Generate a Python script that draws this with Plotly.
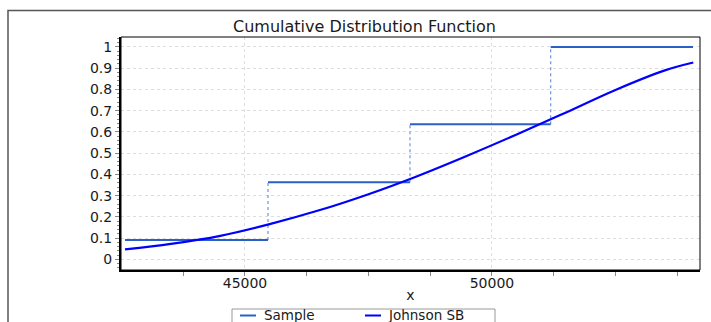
import plotly.graph_objects as go

# Sample empirical CDF steps
step_x = [42571, 45466, 48340, 51188, 54069]
step_y = [0.0909, 0.3636, 0.6364, 1.0]

# Johnson SB fitted CDF
jsb_x = [42571, 43500, 44500, 45500, 46500, 47500, 48500, 49500, 50500, 51500, 52500, 53500, 54075]
jsb_y = [0.047, 0.073, 0.111, 0.166, 0.231, 0.307, 0.393, 0.488, 0.588, 0.692, 0.798, 0.890, 0.927]

y_ticks = [0, 0.1, 0.2, 0.3, 0.4, 0.5, 0.6, 0.7, 0.8, 0.9, 1]
y_labels = ["0", "0.1", "0.2", "0.3", "0.4", "0.5", "0.6", "0.7", "0.8", "0.9", "1"]
x_ticks = [45000, 50000]
x_labels = ["45000", "50000"]
legend_names = ["Sample", "Johnson SB"]

FONT = "DejaVu Sans, Arial, sans-serif"
SAMPLE_C = "#2a5fc8"
JSB_C = "#0000ff"
TXT = "#1a1a1a"

# plot-area pixel geometry helpers (paper coords)
L, T, W, H = 121, 37, 579, 233
def px(xp):
    return (xp - L) / W
def py(yp):
    return (T + H - yp) / H

hx, hy, vx, vy = [], [], [], []
for i, yv in enumerate(step_y):
    hx += [step_x[i], step_x[i + 1], None]
    hy += [yv, yv, None]
    if i > 0:
        vx += [step_x[i], step_x[i], None]
        vy += [step_y[i - 1], yv, None]

fig = go.Figure()
fig.add_trace(go.Scatter(x=vx, y=vy, mode="lines", showlegend=False,
                         line=dict(color="#6f93dc", width=1.2, dash="dot"), hoverinfo="skip"))
fig.add_trace(go.Scatter(x=hx, y=hy, mode="lines", name=legend_names[0], showlegend=False,
                         line=dict(color=SAMPLE_C, width=2)))
fig.add_trace(go.Scatter(x=jsb_x, y=jsb_y, mode="lines", name=legend_names[1], showlegend=False,
                         line=dict(color=JSB_C, width=2.2, shape="spline", smoothing=1)))

shapes = [
    dict(type="rect", xref="paper", yref="paper", x0=0, x1=1, y0=0, y1=1,
         line=dict(color="black", width=1), fillcolor="rgba(0,0,0,0)", layer="above"),
    dict(type="rect", xref="paper", yref="paper",
         x0=px(8), x1=1.2, y0=-0.5, y1=py(10.5),
         line=dict(color="#555", width=1.5), fillcolor="rgba(0,0,0,0)", layer="below"),
    # legend box and samples
    dict(type="rect", xref="paper", yref="paper", x0=px(232), x1=px(495), y0=py(335), y1=py(309),
         line=dict(color="#999", width=1), fillcolor="white"),
    dict(type="line", xref="paper", yref="paper", x0=px(240), x1=px(256), y0=py(315.5), y1=py(315.5),
         line=dict(color=SAMPLE_C, width=2)),
    dict(type="line", xref="paper", yref="paper", x0=px(365), x1=px(381), y0=py(315.5), y1=py(315.5),
         line=dict(color=JSB_C, width=2)),
]
annotations = [
    dict(text=legend_names[0], xref="paper", yref="paper", x=px(262), y=py(315),
         xanchor="left", yanchor="middle", showarrow=False,
         font=dict(family=FONT, size=13.5, color=TXT)),
    dict(text=legend_names[1], xref="paper", yref="paper", x=px(386), y=py(315),
         xanchor="left", yanchor="middle", showarrow=False,
         font=dict(family=FONT, size=13.5, color=TXT)),
]

fig.update_layout(
    width=711, height=322,
    margin=dict(l=L, r=711 - L - W, t=T, b=322 - T - H, autoexpand=False),
    paper_bgcolor="white", plot_bgcolor="white",
    font=dict(family=FONT, size=12, color=TXT),
    title=dict(text="Cumulative Distribution Function", x=364.5 / 711, xanchor="center",
               y=1 - 26 / 322, yanchor="middle", xref="container",
               font=dict(family=FONT, size=16, color=TXT)),
    showlegend=False,
    xaxis=dict(range=[42490, 54211], tickvals=x_ticks, ticktext=x_labels,
               showline=True, linecolor="black", linewidth=2, mirror=False,
               ticks="outside", ticklen=4, tickcolor="#888", zeroline=False,
               showgrid=True, gridcolor="#dddddd", griddash="dot", gridwidth=1,
               minor=dict(tickvals=[43750, 46250, 47500, 48750, 51250, 52500, 53750],
                          ticks="outside", ticklen=4, tickcolor="#888", showgrid=False),
               tickfont=dict(family=FONT, size=14, color=TXT), ticklabelstandoff=-5,
               title=dict(text="x", standoff=0, font=dict(family=FONT, size=14, color=TXT))),
    yaxis=dict(range=[-0.05, 1.047], tickvals=y_ticks, ticktext=y_labels,
               showline=True, linecolor="black", linewidth=2, mirror=False,
               ticks="outside", ticklen=4, tickcolor="#888", zeroline=False,
               showgrid=True, gridcolor="#dddddd", griddash="dot", gridwidth=1,
               minor=dict(dtick=0.02, ticks="outside", ticklen=2, tickcolor="#888", showgrid=False),
               tickfont=dict(family=FONT, size=14, color=TXT)),
    shapes=shapes,
    annotations=annotations,
)

fig.write_html("out.html")
